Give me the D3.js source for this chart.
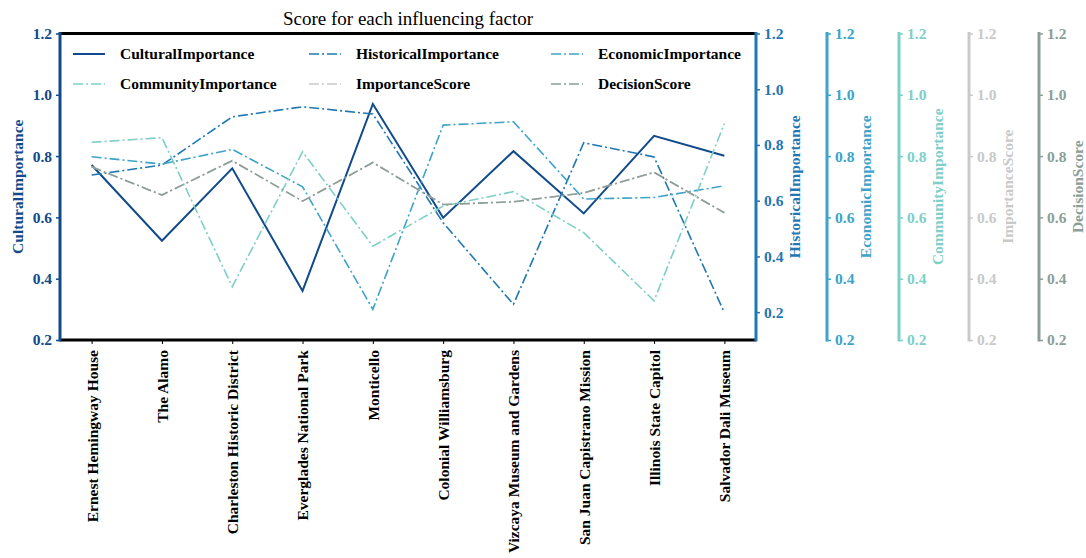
<!DOCTYPE html>
<html>
<head>
<meta charset="utf-8">
<script src="https://cdn.jsdelivr.net/npm/d3@7"></script>
<style>
  html, body { margin: 0; padding: 0; background: #fff; }
  svg { display: block; }
  text { font-family: "Liberation Serif", "Times New Roman", serif; }
</style>
</head>
<body>
<svg id="chart" width="1086" height="558"></svg>
<script>
const categories = ["Ernest Hemingway House", "The Alamo", "Charleston Historic District", "Everglades National Park", "Monticello", "Colonial Williamsburg", "Vizcaya Museum and Gardens", "San Juan Capistrano Mission", "Illinois State Capitol", "Salvador Dali Museum"];
const culturalImportance  = [0.771, 0.524, 0.760, 0.360, 0.970, 0.599, 0.816, 0.613, 0.866, 0.801];
const historicalImportance = [0.692, 0.728, 0.901, 0.937, 0.911, 0.521, 0.228, 0.808, 0.757, 0.198];
const economicImportance  = [0.798, 0.774, 0.822, 0.700, 0.300, 0.901, 0.912, 0.660, 0.665, 0.703];
const communityImportance = [0.845, 0.860, 0.374, 0.814, 0.506, 0.637, 0.684, 0.550, 0.328, 0.906];
const importanceScore     = [0.765, 0.673, 0.785, 0.653, 0.779, 0.642, 0.651, 0.680, 0.747, 0.615];
const decisionScore       = [0.765, 0.673, 0.785, 0.653, 0.779, 0.642, 0.651, 0.680, 0.747, 0.615];
const seriesNames = ["CulturalImportance", "HistoricalImportance", "EconomicImportance", "CommunityImportance", "ImportanceScore", "DecisionScore"];
const yTicks = [0.2, 0.4, 0.6, 0.8, 1.0, 1.2];
const titleText = "Score for each influencing factor";

(function () {
const seriesValues = [culturalImportance, historicalImportance, economicImportance, communityImportance, importanceScore, decisionScore];
const colors = ["#114a8a", "#1f78b4", "#3ea3c9", "#7dcfc7", "#c9c9c9", "#8c9e96"];
const dashes = [null, "10,3,2,3", "10,3,2,3", "10,3,2,3", "10,3,2,3", "10,3,2,3"];
const domains = [[0.2, 1.2], [0.1, 1.2], [0.2, 1.2], [0.2, 1.2], [0.2, 1.2], [0.2, 1.2]];

const pL = 60, pR = 756, pT = 33.5, pB = 340;
const svg = d3.select("#chart");
const FS = "15.5px";

const x = d3.scalePoint().domain(categories).range([pL, pR]).padding(0.45);
const yScales = domains.map(d => d3.scaleLinear().domain(d).range([pB, pT]));

svg.append("text").attr("x", (pL + pR) / 2).attr("y", 25)
  .attr("text-anchor", "middle").style("font-size", "19px").text(titleText);

const lineGen = (ys) => d3.line().x((d, i) => x(categories[i])).y(d => ys(d));
seriesValues.forEach((vals, k) => {
  svg.append("path").datum(vals)
    .attr("d", lineGen(yScales[k]))
    .attr("fill", "none")
    .attr("stroke", colors[k])
    .attr("stroke-width", k === 0 ? 2 : 1.6)
    .attr("stroke-dasharray", dashes[k]);
});

const xAxis = svg.append("g").attr("transform", `translate(0,${pB})`)
  .call(d3.axisBottom(x).tickSize(4).tickPadding(6));
xAxis.select(".domain").remove();
xAxis.selectAll(".tick line").attr("stroke", "#000").attr("stroke-width", 1);
xAxis.selectAll(".tick text")
  .attr("transform", "rotate(-90)")
  .attr("x", -10).attr("y", 0).attr("dy", "0.35em")
  .attr("text-anchor", "end")
  .style("font-size", FS).style("font-weight", "bold").attr("fill", "#000");

svg.append("line").attr("x1", pL).attr("x2", pR).attr("y1", pT).attr("y2", pT)
  .attr("stroke", "#000").attr("stroke-width", 3);
svg.append("line").attr("x1", pL).attr("x2", pR).attr("y1", pB).attr("y2", pB)
  .attr("stroke", "#000").attr("stroke-width", 3);

const axisX = [pL, 756, 827, 899, 969, 1039];
axisX.forEach((ax, k) => {
  const isLeft = k === 0;
  const gen = (isLeft ? d3.axisLeft(yScales[k]) : d3.axisRight(yScales[k]))
    .tickValues(yTicks).tickFormat(d3.format(".1f")).tickSize(4).tickPadding(4);
  const g = svg.append("g").attr("transform", `translate(${ax},0)`).call(gen);
  g.select(".domain").remove();
  g.selectAll(".tick line").attr("stroke", colors[k]).attr("stroke-width", 1.5);
  g.selectAll(".tick text").attr("fill", colors[k])
    .style("font-size", FS).style("font-weight", "bold");
  const [d0, d1] = yScales[k].range();
  g.append("line").attr("x1", 0).attr("x2", 0).attr("y1", d0 + 1.5).attr("y2", d1 - 1.5)
    .attr("stroke", colors[k]).attr("stroke-width", 3);
  const lx = isLeft ? -42 : 39;
  g.append("text")
    .attr("transform", `translate(${lx},${(pT + pB) / 2}) rotate(-90)`)
    .attr("text-anchor", "middle").attr("dy", "0.3em")
    .attr("fill", colors[k]).style("font-size", FS).style("font-weight", "bold")
    .text(seriesNames[k]);
});

const legCols = [73, 309, 551], legRows = [54, 84];
seriesNames.forEach((name, k) => {
  const cx = legCols[k % 3], cy = legRows[Math.floor(k / 3)];
  const g = svg.append("g");
  g.append("line").attr("x1", cx).attr("x2", cx + 32).attr("y1", cy).attr("y2", cy)
    .attr("stroke", colors[k]).attr("stroke-width", k === 0 ? 2 : 1.6)
    .attr("stroke-dasharray", dashes[k]);
  g.append("text").attr("x", cx + 47).attr("y", cy).attr("dy", "0.35em")
    .style("font-size", FS).style("font-weight", "bold").attr("fill", "#000")
    .text(name);
});
})();
</script>
</body>
</html>
